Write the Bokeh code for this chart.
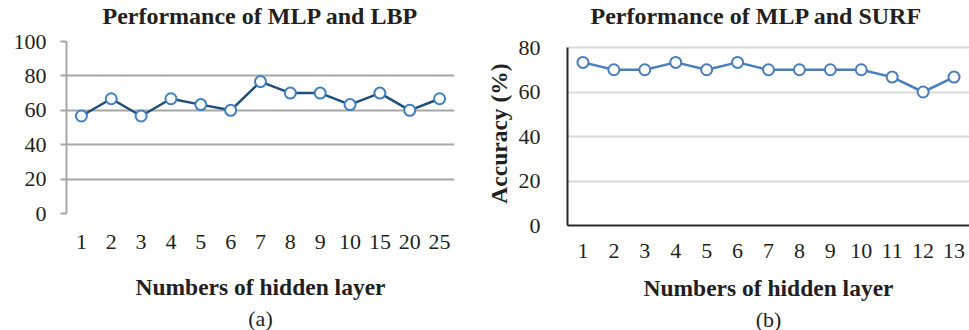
from bokeh.plotting import figure
from bokeh.layouts import row
from bokeh.models import Title, FixedTicker, Range1d, FactorRange
from bokeh.embed import file_html
from bokeh.resources import INLINE

# ---- data ----
lbp_layers = ["1", "2", "3", "4", "5", "6", "7", "8", "9", "10", "15", "20", "25"]
lbp_acc = [56.7, 66.7, 56.7, 66.7, 63.3, 60.0, 76.7, 70.0, 70.0, 63.3, 70.0, 60.0, 66.7]

surf_layers = ["1", "2", "3", "4", "5", "6", "7", "8", "9", "10", "11", "12", "13"]
surf_acc = [73.3, 70.0, 70.0, 73.3, 70.0, 73.3, 70.0, 70.0, 70.0, 70.0, 66.7, 60.0, 66.7]

lbp_ticks = [0, 20, 40, 60, 80, 100]
surf_ticks = [0, 20, 40, 60, 80]

FONT = "Liberation Serif"
TXT = "#231f20"


def style_common(p):
    p.outline_line_color = None
    p.xgrid.visible = False
    for ax in (p.xaxis[0], p.yaxis[0]):
        ax.major_label_text_font = FONT
        ax.major_label_text_font_size = "22px"
        ax.major_label_text_color = TXT
        ax.minor_tick_line_color = None
        ax.axis_label_text_font = FONT
        ax.axis_label_text_font_size = "23.5px"
        ax.axis_label_text_font_style = "bold"
        ax.axis_label_text_color = TXT


def add_titles(p, text, offset, standoff, gap, caption, cap_standoff):
    # spacer between frame and title
    p.add_layout(Title(text=" ", text_font_size="1px", standoff=gap), "above")
    p.add_layout(Title(text=text, align="left", offset=offset, standoff=standoff,
                       text_font=FONT, text_font_size="24px", text_font_style="bold",
                       text_color=TXT), "above")
    p.add_layout(Title(text=caption, align="center", text_font=FONT, text_font_size="22px",
                       text_font_style="normal", text_color=TXT, standoff=cap_standoff),
                 "below")


# ---- (a) ----
pa = figure(frame_width=388, frame_height=172, x_range=FactorRange(*lbp_layers),
            y_range=Range1d(0, 100), output_backend="svg", toolbar_location=None,
            min_border_left=66, min_border_right=26, min_border_top=0, min_border_bottom=116)
style_common(pa)
pa.ygrid.grid_line_color = "#A6A6A6"
pa.ygrid.grid_line_width = 2
pa.yaxis.ticker = FixedTicker(ticks=lbp_ticks)
pa.yaxis.bounds = (0, 100)
pa.yaxis.axis_line_color = "#A6A6A6"
pa.yaxis.axis_line_width = 2
pa.yaxis.major_tick_line_color = "#A6A6A6"
pa.yaxis.major_tick_line_width = 2
pa.yaxis.major_tick_out = 6
pa.yaxis.major_tick_in = 0
pa.yaxis.major_label_standoff = 14
pa.xaxis.axis_line_color = None
pa.xaxis.major_tick_line_color = None
pa.xaxis.major_label_standoff = 15
pa.xaxis.axis_label = "Numbers of hidden layer"
pa.xaxis.axis_label_standoff = 22
pa.line(lbp_layers, lbp_acc, line_color="#1F4E79", line_width=2.5)
pa.scatter(lbp_layers, lbp_acc, size=11, marker="circle", line_color="#3F7FC4",
           line_width=2, fill_color="white")
add_titles(pa, "Performance of MLP and LBP", 36, 1, 9, "(a)", 2)

# ---- (b) ----
# frame extends 6px above the 80 line so that both plots share one top border
pb = figure(frame_width=402, frame_height=184, x_range=FactorRange(*surf_layers),
            y_range=Range1d(0, 80 + 6 * 80 / 178), output_backend="svg", toolbar_location=None,
            min_border_left=87, min_border_right=0, min_border_top=0, min_border_bottom=104)
style_common(pb)
pb.ygrid.grid_line_color = "#D9D9D9"
pb.ygrid.grid_line_width = 2
pb.yaxis.ticker = FixedTicker(ticks=surf_ticks)
pb.yaxis.bounds = (0, 80)
pb.yaxis.axis_line_color = "#262626"
pb.yaxis.axis_line_width = 2
pb.yaxis.major_tick_line_color = None
pb.yaxis.major_label_standoff = 21
pb.yaxis.axis_label = "Accuracy (%)"
pb.yaxis.axis_label_standoff = 4
pb.xaxis.axis_line_color = "#262626"
pb.xaxis.axis_line_width = 2
pb.xaxis.major_tick_line_color = None
pb.xaxis.major_label_standoff = 12
pb.xaxis.axis_label = "Numbers of hidden layer"
pb.xaxis.axis_label_standoff = 14
pb.line(surf_layers, surf_acc, line_color="#4A7EBB", line_width=2.5)
pb.scatter(surf_layers, surf_acc, size=11, marker="circle", line_color="#4A7EBB",
           line_width=2, fill_color="white")
add_titles(pb, "Performance of MLP and SURF", 23, 1, 9, "(b)", 2)

layout = row(pa, pb)
open("out.html", "w").write(file_html(layout, INLINE))
